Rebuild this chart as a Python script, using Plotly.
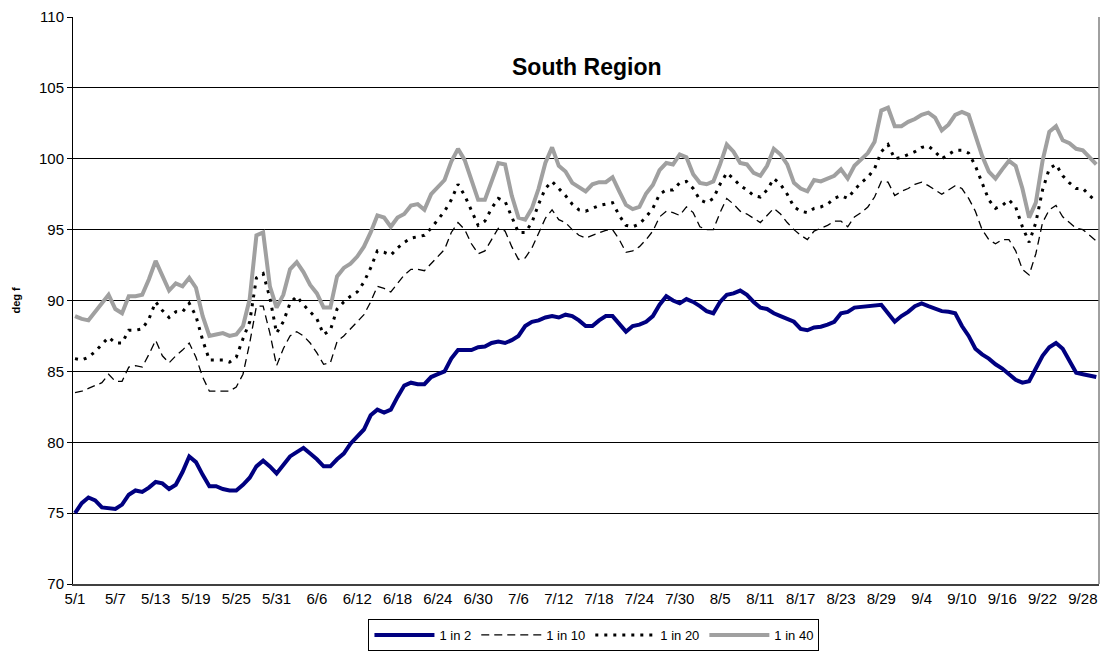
import pandas as pd
import plotly.graph_objects as go

# Categories: daily dates 5/1 .. 9/30
dates = [f"{d.month}/{d.day}" for d in pd.date_range("2021-05-01", "2021-09-30", freq="D")]
tick_labels = dates[::6]

one_in_2 = [
    75.0, 75.7, 76.1, 75.9, 75.4, 75.35, 75.3, 75.6, 76.3, 76.6,
    76.5, 76.8, 77.2, 77.1, 76.7, 77.0, 77.9, 79.0, 78.6, 77.7,
    76.9, 76.9, 76.7, 76.6, 76.6, 77.0, 77.5, 78.3, 78.7, 78.3,
    77.8, 78.4, 79.0, 79.3, 79.6, 79.2, 78.8, 78.3, 78.3, 78.8,
    79.2, 79.9, 80.4, 80.9, 81.9, 82.3, 82.1, 82.3, 83.2, 84.0,
    84.2, 84.1, 84.1, 84.6, 84.8, 85.0, 85.9, 86.5, 86.5, 86.5,
    86.7, 86.75, 87.0, 87.1, 87.0, 87.2, 87.5, 88.2, 88.5, 88.6,
    88.8, 88.9, 88.8, 89.0, 88.9, 88.6, 88.2, 88.2, 88.6, 88.9,
    88.9, 88.3, 87.8, 88.2, 88.3, 88.5, 88.9, 89.7, 90.3, 90.0,
    89.8, 90.1, 89.9, 89.6, 89.25, 89.1, 89.9, 90.4, 90.5, 90.7,
    90.4, 89.9, 89.5, 89.4, 89.1, 88.9, 88.7, 88.5, 88.0, 87.9,
    88.1, 88.15, 88.3, 88.5, 89.1, 89.2, 89.5, 89.55, 89.6, 89.65,
    89.7, 89.1, 88.5, 88.9, 89.2, 89.6, 89.8, 89.6, 89.4, 89.25,
    89.2, 89.1, 88.2, 87.5, 86.6, 86.2, 85.9, 85.5, 85.2, 84.8,
    84.4, 84.2, 84.3, 85.2, 86.1, 86.7, 87.0, 86.6, 85.8, 84.9,
    84.8, 84.7, 84.6,
]

one_in_10 = [
    83.5, 83.6, 83.8, 84.0, 84.2, 84.8, 84.3, 84.3, 85.3, 85.4,
    85.3, 86.2, 87.2, 86.1, 85.6, 86.1, 86.5, 87.0, 86.0, 84.6,
    83.6, 83.6, 83.6, 83.6, 83.9, 84.8, 87.0, 89.6, 89.6, 87.7,
    85.4, 86.6, 87.5, 87.8, 87.5, 87.0, 86.3, 85.5, 85.6, 87.1,
    87.5, 88.0, 88.5, 89.0, 89.9, 91.0, 90.85, 90.6, 91.2, 91.8,
    92.2, 92.2, 92.1, 92.6, 93.1, 93.6, 94.8, 95.5, 95.0, 94.0,
    93.3, 93.5, 94.3, 95.1, 94.9, 93.8, 92.9, 93.0, 93.7, 94.7,
    95.8, 96.4, 95.7, 95.5, 95.0, 94.6, 94.4, 94.6, 94.8, 94.95,
    95.0, 94.3, 93.4, 93.5, 93.8, 94.3, 94.9, 95.9, 96.3, 96.2,
    96.0, 96.6, 96.2, 95.2, 95.0, 95.0, 96.2, 97.2, 96.8, 96.3,
    96.1, 95.8, 95.5, 96.0, 96.5, 96.1, 95.5, 95.0, 94.6, 94.3,
    94.9, 95.1, 95.3, 95.6, 95.6, 95.2, 95.9, 96.2, 96.6, 97.3,
    98.4, 98.35, 97.4, 97.7, 97.9, 98.2, 98.35, 98.1, 97.8, 97.5,
    97.8, 98.1, 97.9, 97.2, 96.3, 95.0, 94.3, 94.0, 94.3, 94.3,
    93.5, 92.2, 91.8, 93.3, 95.5, 96.4, 96.7, 95.9, 95.5, 95.1,
    95.0, 94.6, 94.2,
]

one_in_20 = [
    85.9, 85.8, 86.0, 86.4, 86.9, 87.4, 87.0, 87.0, 87.9, 87.9,
    88.0, 88.7, 89.9, 89.3, 88.8, 89.2, 89.2, 89.8, 88.9, 87.2,
    85.8, 85.8, 85.8, 85.65, 86.0, 87.3, 88.5, 91.6, 91.9, 90.2,
    87.7, 88.5, 89.8, 90.3, 89.7, 89.2, 88.7, 87.6, 87.9, 89.4,
    89.9, 90.3, 90.6, 91.3, 92.3, 93.5, 93.4, 93.2, 93.7, 94.1,
    94.4, 94.5, 94.6, 95.1, 95.7, 96.3, 97.1, 98.2, 97.4, 96.3,
    95.3, 95.6, 96.5, 97.2, 97.0, 95.9, 94.8, 94.8, 95.5, 96.8,
    97.9, 98.4, 97.9, 97.4, 96.8, 96.4, 96.3, 96.5, 96.7, 96.8,
    96.9, 96.0, 95.3, 95.2, 95.4, 95.9, 96.5, 97.5, 97.8, 97.8,
    98.3, 98.4, 97.9, 97.1, 96.9, 97.2, 98.2, 99.0, 98.6, 98.1,
    97.8, 97.4, 97.3, 97.8, 98.6, 98.2, 97.5, 96.6, 96.3, 96.2,
    96.5, 96.6, 96.8, 97.2, 97.4, 97.2, 97.8, 98.3, 98.7, 99.3,
    100.5, 101.0, 100.0, 100.1, 100.3, 100.5, 100.8, 100.9, 100.5, 100.0,
    100.3, 100.6, 100.6, 100.4, 99.5, 98.3, 97.1, 96.5, 96.7, 97.1,
    96.6, 95.2, 94.1, 95.5, 97.8, 99.3, 99.6, 98.8, 98.3, 97.9,
    97.9, 97.4, 97.0,
]

one_in_40 = [
    88.9, 88.7, 88.6, 89.2, 89.8, 90.4, 89.4, 89.1, 90.3, 90.3,
    90.4, 91.5, 92.8, 91.7, 90.7, 91.2, 91.0, 91.6, 90.9, 88.9,
    87.5, 87.6, 87.7, 87.5, 87.6, 88.2, 90.1, 94.6, 94.8, 91.0,
    89.5, 90.4, 92.2, 92.7, 92.0, 91.1, 90.5, 89.5, 89.5, 91.7,
    92.3, 92.6, 93.1, 93.8, 94.8, 96.0, 95.85, 95.2, 95.85, 96.1,
    96.7, 96.8, 96.4, 97.5, 98.0, 98.5, 99.8, 100.7, 99.9, 98.4,
    97.1, 97.1, 98.4, 99.7, 99.6, 97.4, 95.85, 95.7, 96.5, 97.9,
    99.7, 100.8, 99.5, 99.1, 98.3, 98.0, 97.7, 98.2, 98.35, 98.35,
    98.7, 97.7, 96.75, 96.45, 96.6, 97.55, 98.15, 99.2, 99.7, 99.6,
    100.3, 100.1, 98.9, 98.3, 98.2, 98.4, 99.6, 101.0, 100.5, 99.7,
    99.6, 99.0, 98.8, 99.5, 100.7, 100.3, 99.6, 98.3, 97.9, 97.7,
    98.5, 98.4, 98.6, 98.8, 99.25, 98.6, 99.5, 100.0, 100.4, 101.2,
    103.4, 103.6, 102.3, 102.3, 102.6, 102.8, 103.1, 103.25, 102.9, 102.0,
    102.4, 103.1, 103.3, 103.1, 101.6, 100.2, 99.1, 98.6, 99.25, 99.85,
    99.5, 97.9, 95.85, 96.9, 99.85, 101.9, 102.3, 101.3, 101.1, 100.7,
    100.6, 100.1, 99.6,
]

series_names = ["1 in 2", "1 in 10", "1 in 20", "1 in 40"]
series_values = [one_in_2, one_in_10, one_in_20, one_in_40]
series_styles = [
    dict(color="#000080", width=4, dash="solid"),
    dict(color="#000000", width=1.3, dash="8px,5px"),
    dict(color="#000000", width=3, dash="3px,6px"),
    dict(color="#A0A0A0", width=4, dash="solid"),
]

fig = go.Figure()
for name, vals, style in zip(series_names, series_values, series_styles):
    fig.add_trace(go.Scatter(x=dates, y=vals, mode="lines", name=name, line=style))

FONT = "Liberation Sans, Arial, sans-serif"

fig.update_layout(
    width=1104, height=651,
    margin=dict(l=73, r=5, t=17, b=67),
    paper_bgcolor="white", plot_bgcolor="white",
    font=dict(family=FONT, size=13, color="black"),
    showlegend=True,
    legend=dict(
        orientation="h", xref="container", yref="container",
        x=0.538, xanchor="center", y=(651 - 619) / 651, yanchor="top",
        bordercolor="black", borderwidth=1, font=dict(size=13, family=FONT),
        itemwidth=60, bgcolor="white", tracegroupgap=0,
    ),
    annotations=[
        dict(text="<b>South Region</b>", x=0.5, y=0.912, xref="paper", yref="paper",
             showarrow=False, font=dict(size=23, family=FONT, color="black"),
             xanchor="center", yanchor="middle"),
        dict(text="<b>deg f</b>", x=-0.0565, y=0.5, xref="paper", yref="paper",
             showarrow=False, textangle=-90, font=dict(size=11, family=FONT, color="black"),
             xanchor="center", yanchor="middle"),
    ],
    shapes=[
        dict(type="line", xref="paper", yref="paper", x0=1, x1=1, y0=0, y1=1,
             line=dict(color="#808080", width=1.5)),
    ],
)

fig.update_xaxes(
    type="category", range=[-0.3, 152.4], automargin=False,
    tickmode="array", tickvals=tick_labels, ticktext=tick_labels,
    showgrid=False, showline=True, linecolor="#404040", linewidth=1.5,
    ticks="", tickfont=dict(size=15, family=FONT, color="black"),
    zeroline=False,
)
fig.update_yaxes(
    range=[70, 110], dtick=5, tick0=70, automargin=False,
    showgrid=True, gridcolor="black", gridwidth=1,
    showline=True, linecolor="black", linewidth=1,
    ticks="outside", ticklen=5, tickcolor="black",
    tickfont=dict(size=15, family=FONT, color="black"),
    zeroline=False,
)

fig.write_html(
    "out.html",
    config={"responsive": False, "displayModeBar": False},
    post_script="document.body.style.margin='0';document.body.style.overflow='hidden';",
)
